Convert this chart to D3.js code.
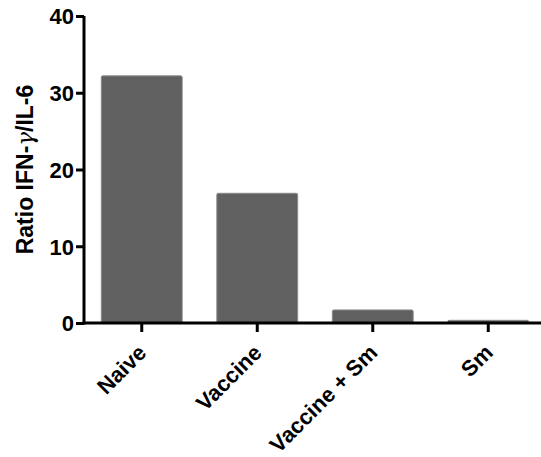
<!DOCTYPE html>
<html>
<head>
<meta charset="utf-8">
<script src="https://cdn.jsdelivr.net/npm/d3@7"></script>
<style>
  html, body { margin: 0; padding: 0; background: #fff; }
  svg { display: block; }
  .tick text { font-family: "Liberation Sans", Arial, sans-serif; font-weight: bold; font-size: 22px; fill: #000; }
</style>
</head>
<body>
<svg id="chart" width="541" height="457"></svg>
<script>
const categories = ["Naive", "Vaccine", "Vaccine + Sm", "Sm"];
const ratios = [32.2, 16.9, 1.7, 0.35];
const yTicks = [0, 10, 20, 30, 40];

const svg = d3.select("#chart");
const margin = { left: 84, top: 16 };

const x = d3.scaleBand()
  .domain(categories)
  .range([margin.left, 546])
  .paddingInner(0.3)
  .paddingOuter(0.15);

const y = d3.scaleLinear()
  .domain([0, 40])
  .range([323, margin.top]);

// bars
svg.append("g")
  .selectAll("rect")
  .data(categories.map((c, i) => ({ c, v: ratios[i] })))
  .join("rect")
  .attr("x", d => x(d.c))
  .attr("y", d => y(d.v))
  .attr("width", x.bandwidth())
  .attr("height", d => y(0) - y(d.v))
  .attr("rx", 1.5)
  .attr("fill", "#606060")
  .attr("stroke", "#8a8a8a")
  .attr("stroke-width", 1);

// y axis
const yAxis = svg.append("g")
  .attr("transform", `translate(${margin.left},0)`)
  .call(d3.axisLeft(y).tickValues(yTicks).tickSize(8).tickPadding(2));
yAxis.select(".domain").attr("stroke", "#000").attr("stroke-width", 3)
  .attr("d", `M0,${y(40)}V${y(0) + 1.5}`);
yAxis.selectAll(".tick line").attr("stroke", "#000").attr("stroke-width", 3);
yAxis.selectAll(".tick text").attr("dy", "0.36em");

// x axis
const xAxis = svg.append("g")
  .attr("transform", `translate(0,${y(0)})`)
  .call(d3.axisBottom(x).tickSize(9).tickPadding(6));
xAxis.select(".domain").attr("stroke", "#000").attr("stroke-width", 3)
  .attr("d", `M${margin.left - 1.5},0H541`);
xAxis.selectAll(".tick line").attr("stroke", "#000").attr("stroke-width", 3);
xAxis.selectAll(".tick text")
  .attr("text-anchor", "end")
  .attr("y", 0)
  .attr("dx", "0")
  .attr("dy", "0")
  .attr("transform", "translate(6,31) rotate(-45)");

// y axis title, with an italic gamma
const title = svg.append("text")
  .attr("transform", `translate(33,${(y(0) + y(40)) / 2}) rotate(-90)`)
  .attr("text-anchor", "middle")
  .style("font-family", "'Liberation Sans', Arial, sans-serif")
  .style("font-weight", "bold")
  .style("font-size", "23px");
title.append("tspan").text("Ratio IFN-");
title.append("tspan").style("font-style", "italic").style("font-family", "'DejaVu Serif', serif").style("font-weight", "normal").text("γ");
title.append("tspan").text("/IL-6");
</script>
</body>
</html>
